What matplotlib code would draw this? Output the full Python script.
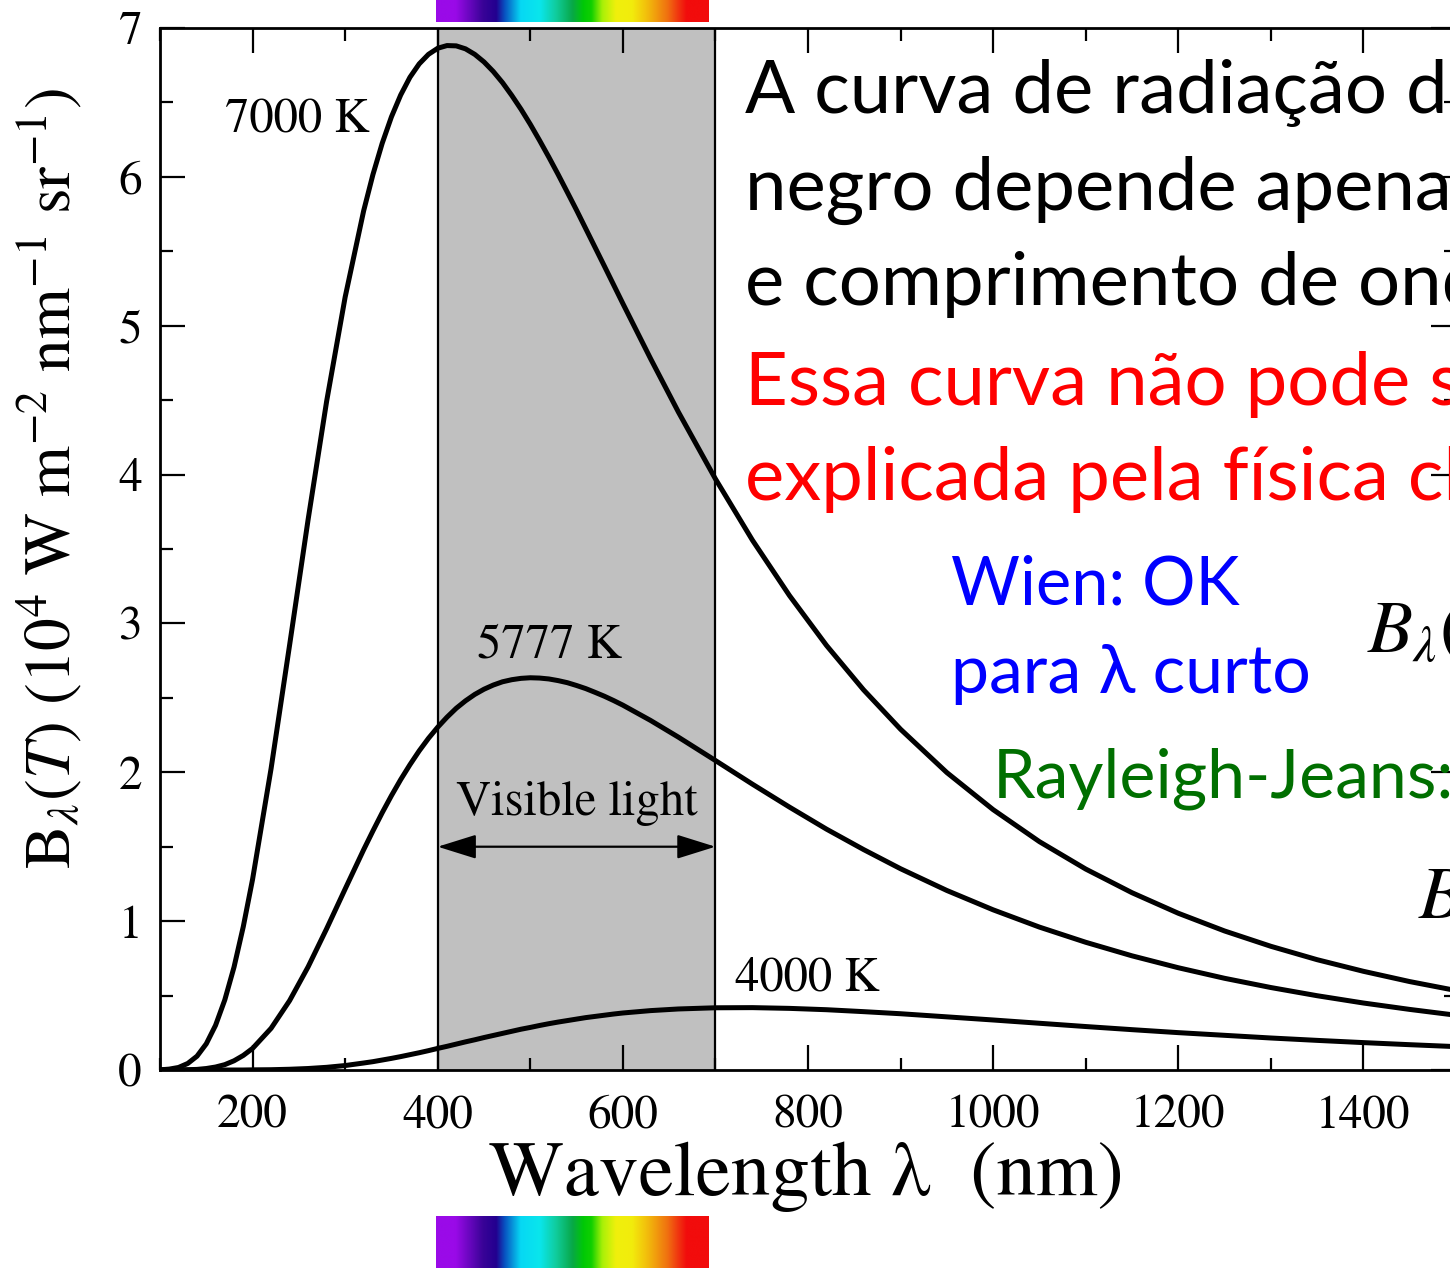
import numpy as np
import matplotlib
matplotlib.use('Agg')
import matplotlib.pyplot as plt
from matplotlib.colors import LinearSegmentedColormap
from matplotlib.patches import Rectangle

plt.rcParams['font.family'] = ['STIXGeneral', 'DejaVu Sans']
plt.rcParams['mathtext.fontset'] = 'stix'

# spectral radiance B_lambda(T), 10^4 W m^-2 nm^-1 sr^-1
wavelength = [100, 110, 120, 130, 140, 150, 160, 170, 180, 190, 200,
              220, 240, 260, 280, 300, 320,
              330, 340, 350, 360, 370, 380, 390, 400, 410, 420,
              430, 440, 450, 460, 470, 480, 490, 500, 510, 520,
              530, 540, 550, 560, 570, 580, 590, 600,
              630, 660, 700, 740, 780, 820, 860, 900, 950,
              1000, 1050, 1100, 1150, 1200, 1250, 1300, 1350, 1400, 1450, 1500]

b_7000 = [0.001, 0.006, 0.017, 0.044, 0.093, 0.176, 0.300, 0.471, 0.692, 0.964, 1.281,
          2.025, 2.855, 3.698, 4.492, 5.192, 5.772,
          6.015, 6.225, 6.403, 6.550, 6.669, 6.759, 6.823, 6.864, 6.882, 6.880,
          6.860, 6.823, 6.772, 6.708, 6.633, 6.547, 6.454, 6.353, 6.245, 6.133,
          6.017, 5.897, 5.776, 5.651, 5.526, 5.401, 5.275, 5.149,
          4.778, 4.420, 3.971, 3.559, 3.187, 2.852, 2.554, 2.289, 1.998,
          1.749, 1.534, 1.350, 1.191, 1.053, 0.934, 0.831, 0.741, 0.663, 0.594, 0.534]

b_5777 = [0.000, 0.000, 0.000, 0.002, 0.004, 0.010, 0.020, 0.036, 0.062, 0.098, 0.145,
          0.280, 0.466, 0.693, 0.949, 1.216, 1.480,
          1.606, 1.728, 1.843, 1.951, 2.051, 2.144, 2.228, 2.303, 2.370, 2.430,
          2.480, 2.523, 2.558, 2.586, 2.608, 2.622, 2.631, 2.635, 2.633, 2.627,
          2.616, 2.602, 2.583, 2.562, 2.537, 2.511, 2.482, 2.451,
          2.348, 2.236, 2.079, 1.920, 1.766, 1.618, 1.481, 1.352, 1.206,
          1.076, 0.960, 0.858, 0.767, 0.687, 0.616, 0.554, 0.499, 0.450, 0.407, 0.368]

b_4000 = [0.000, 0.000, 0.000, 0.000, 0.000, 0.000, 0.000, 0.000, 0.000, 0.000, 0.001,
          0.002, 0.005, 0.010, 0.018, 0.030, 0.047,
          0.056, 0.067, 0.078, 0.090, 0.103, 0.116, 0.130, 0.145, 0.159, 0.174,
          0.189, 0.203, 0.218, 0.232, 0.246, 0.260, 0.274, 0.286, 0.299, 0.311,
          0.322, 0.332, 0.342, 0.352, 0.360, 0.368, 0.376, 0.383,
          0.399, 0.410, 0.418, 0.419, 0.414, 0.405, 0.392, 0.378, 0.357,
          0.336, 0.314, 0.292, 0.271, 0.251, 0.233, 0.215, 0.199, 0.184, 0.170, 0.157]

visible_band = (400, 700)

# colour stops of the spectrum strip
spectrum_stops = [(0.00, '#9a0ae8'), (0.07, '#9a0ae8'), (0.17, '#3a0398'), (0.22, '#22008f'),
                  (0.25, '#0850c0'), (0.31, '#06d8f4'), (0.38, '#0ae6ec'), (0.44, '#10cc9c'),
                  (0.50, '#08a848'), (0.54, '#00c806'), (0.57, '#10d000'), (0.61, '#a8f008'),
                  (0.66, '#f0f00c'), (0.72, '#f2ec0c'), (0.78, '#f2b80c'), (0.85, '#f07010'),
                  (0.89, '#f03410'), (0.92, '#f20c0c'), (1.00, '#f20c0c')]

W, H = 1450, 1268
fig = plt.figure(figsize=(W / 100, H / 100), dpi=100)

def fx(px):
    return px / W

def fy(py):
    return 1 - py / H

ax = fig.add_axes([fx(160), fy(1070), fx(1456) - fx(160), fy(28) - fy(1070)])
ax.set_xlim(100, 1500)
ax.set_ylim(0, 7)

ax.axvspan(*visible_band, color='#c0c0c0', zorder=0, lw=0)
for xv in visible_band:
    ax.axvline(xv, color='black', lw=1.6, zorder=1)

for b in (b_7000, b_5777, b_4000):
    ax.plot(wavelength, b, color='black', lw=3.6, solid_joinstyle='round',
            solid_capstyle='round', zorder=3)

ax.set_xticks(range(200, 1500, 200))
ax.set_xticks(range(100, 1501, 100), minor=True)
ax.set_yticks(range(0, 8))
ax.set_yticks(np.arange(0, 7.01, 0.5), minor=True)
ax.tick_params(which='both', direction='in', top=True, right=True, width=1.6, labelsize=34)
ax.tick_params(which='major', length=18)
ax.tick_params(which='minor', length=9)
ax.tick_params(axis='x', pad=18)
ax.tick_params(axis='y', pad=13)
for s in ax.spines.values():
    s.set_linewidth(2.0)

ax.text(170, 6.295, '7000 K', fontsize=35, va='baseline')
ax.text(442, 2.768, '5777 K', fontsize=35, va='baseline')
ax.text(721, 0.537, '4000 K', fontsize=35, va='baseline')
ax.text(550, 1.713, 'Visible light', fontsize=35, va='baseline', ha='center')
ax.annotate('', xy=(visible_band[0], 1.5), xytext=(visible_band[1], 1.5),
            arrowprops=dict(arrowstyle='<|-|>,head_length=0.8,head_width=0.25',
                            color='black', lw=1.6, shrinkA=0, shrinkB=0,
                            mutation_scale=30))

fig.text(fx(50), fy(479), r'B$_\lambda$($T$) (10$^4$ W m$^{-2}$ nm$^{-1}$ sr$^{-1}$)',
         rotation=90, fontsize=47, ha='center', va='center')
fig.text(fx(806), fy(1195), 'Wavelength λ  (nm)', fontsize=57, ha='center', va='baseline')

# spectrum strips above and below the visible band
cmap = LinearSegmentedColormap.from_list('spectrum', spectrum_stops)
grad = np.linspace(0, 1, 512)[None, :]
for top, bottom in ((0, 22), (1216, 1268)):
    cax = fig.add_axes([fx(436), fy(bottom), fx(709) - fx(436), fy(top) - fy(bottom)])
    cax.imshow(grad, cmap=cmap, aspect='auto', interpolation='bilinear')
    cax.set_axis_off()

# formula boxes at the right edge
for x0, y0, x1, y1 in ((1358, 545, 1450, 735), (1410, 838, 1450, 965)):
    fig.add_artist(Rectangle((fx(x0), fy(y1)), fx(x1) - fx(x0), fy(y0) - fy(y1),
                             transform=fig.transFigure, facecolor='white',
                             edgecolor='none', zorder=2))
fig.text(fx(1367), fy(652), r'$B_{\lambda}($', fontsize=53, va='baseline', zorder=4)
fig.text(fx(1418), fy(918), r'$B$', fontsize=53, va='baseline', zorder=4)

sans = ['Lato', 'STIXGeneral']
lines = [('A curva de radiação do corpo', 'black', 113),
         ('negro depende apenas da temperatura', 'black', 210),
         ('e comprimento de onda', 'black', 305),
         ('Essa curva não pode ser', '#ff0000', 405),
         ('explicada pela física clássica', '#ff0000', 500)]
for txt, col, base in lines:
    fig.text(fx(745), fy(base), txt, color=col, fontsize=53.5, family=sans,
             va='baseline', zorder=4)

fig.text(fx(951), fy(605), 'Wien: OK', color='#0000ff', fontsize=48, family=sans,
         va='baseline', zorder=4)
fig.text(fx(951), fy(693), 'para λ curto', color='#0000ff', fontsize=49, family=sans,
         va='baseline', zorder=4)
fig.text(fx(993), fy(797), 'Rayleigh-Jeans:', color='#006f00', fontsize=49, family=sans,
         va='baseline', zorder=4)

fig.savefig('out.png', dpi=100)
